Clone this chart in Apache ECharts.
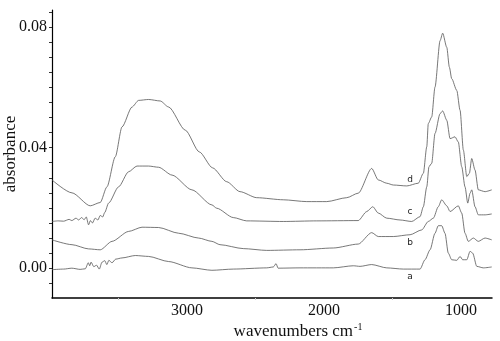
<!DOCTYPE html>
<html>
<head>
<meta charset="utf-8">
<script src="https://cdn.jsdelivr.net/npm/echarts@6/dist/echarts.min.js"></script>
<style>
  html, body { margin: 0; padding: 0; background: #fff; }
  #chart { width: 500px; height: 341px; }
</style>
</head>
<body>
<div id="chart"></div>
<script>
// spectra: [wavenumber, absorbance]
var curveA = [
  [3985, -0.0005], [3900, -0.0003], [3840, 0.0000], [3780, -0.0004], [3742, -0.0002],
  [3720, 0.0018], [3710, 0.0008], [3700, 0.0020], [3680, 0.0005], [3660, 0.0010],
  [3640, -0.0003], [3620, 0.0020], [3600, 0.0025], [3585, 0.0012], [3570, 0.0026],
  [3547, 0.0018], [3520, 0.0030], [3474, 0.0034], [3377, 0.0042], [3280, 0.0039],
  [3134, 0.0022], [2964, 0.0001], [2818, -0.0007], [2662, -0.0003], [2418, 0.0001],
  [2370, 0.0004], [2350, 0.0015], [2335, 0.0000], [2175, 0.0001], [1932, 0.0001],
  [1786, 0.0008], [1737, 0.0006], [1652, 0.0012], [1542, 0.0001], [1421, -0.0003],
  [1299, -0.0003], [1263, 0.0028], [1226, 0.0061], [1190, 0.0116], [1166, 0.0141],
  [1141, 0.0141], [1117, 0.0116], [1093, 0.0050], [1068, 0.0028], [1031, 0.0026],
  [1007, 0.0039], [988, 0.0028], [958, 0.0028], [934, 0.0056], [915, 0.0050],
  [885, 0.0006], [837, 0.0001], [776, 0.0004]
];
var curveB = [
  [3985, 0.0094], [3839, 0.0078], [3718, 0.0064], [3633, 0.0061], [3547, 0.0089],
  [3426, 0.0122], [3328, 0.0136], [3207, 0.0135], [3061, 0.0116], [2915, 0.0100],
  [2818, 0.0089], [2759, 0.0078], [2589, 0.0065], [2418, 0.0059], [2175, 0.0061],
  [1932, 0.0067], [1750, 0.0080], [1652, 0.0118], [1604, 0.0105], [1494, 0.0105],
  [1372, 0.0111], [1287, 0.0127], [1239, 0.0155], [1202, 0.0166], [1166, 0.0204],
  [1141, 0.0227], [1104, 0.0207], [1080, 0.0188], [1020, 0.0207], [995, 0.0183],
  [971, 0.0116], [947, 0.0089], [910, 0.0100], [874, 0.0089], [825, 0.0100],
  [776, 0.0094]
];
var curveC = [
  [3985, 0.0155], [3940, 0.0157], [3900, 0.0156], [3860, 0.0162], [3840, 0.0158],
  [3810, 0.0166], [3790, 0.0160], [3770, 0.0168], [3750, 0.0161], [3735, 0.0170],
  [3718, 0.0144], [3705, 0.0158], [3690, 0.0150], [3670, 0.0166], [3650, 0.0160],
  [3633, 0.0175], [3615, 0.0170], [3600, 0.0185], [3572, 0.0216], [3499, 0.0270],
  [3426, 0.0320], [3365, 0.0339], [3280, 0.0339], [3207, 0.0335], [3109, 0.0309],
  [2964, 0.0260], [2818, 0.0210], [2783, 0.0199], [2662, 0.0168], [2564, 0.0157],
  [2297, 0.0155], [2053, 0.0157], [1750, 0.0158], [1688, 0.0188], [1644, 0.0204],
  [1604, 0.0183], [1542, 0.0166], [1445, 0.0160], [1360, 0.0155], [1299, 0.0171],
  [1275, 0.0204], [1250, 0.0270], [1234, 0.0337], [1214, 0.0348], [1190, 0.0447],
  [1153, 0.0513], [1134, 0.0522], [1104, 0.0491], [1080, 0.0430], [1044, 0.0436],
  [1020, 0.0419], [995, 0.0337], [971, 0.0270], [951, 0.0216], [934, 0.0249],
  [922, 0.0260], [898, 0.0204], [874, 0.0177], [825, 0.0177], [776, 0.0180]
];
var curveD = [
  [3985, 0.0293], [3839, 0.0250], [3706, 0.0207], [3633, 0.0218], [3584, 0.0270],
  [3523, 0.0370], [3474, 0.0469], [3401, 0.0535], [3353, 0.0557], [3280, 0.0560],
  [3195, 0.0555], [3134, 0.0535], [3012, 0.0458], [2910, 0.0386], [2813, 0.0333],
  [2710, 0.0287], [2613, 0.0254], [2491, 0.0234], [2297, 0.0227], [2126, 0.0221],
  [1980, 0.0221], [1834, 0.0234], [1750, 0.0249], [1652, 0.0331], [1604, 0.0293],
  [1542, 0.0282], [1494, 0.0276], [1396, 0.0273], [1312, 0.0282], [1275, 0.0315],
  [1250, 0.0403], [1239, 0.0480], [1214, 0.0502], [1190, 0.0601], [1153, 0.0755],
  [1134, 0.0780], [1104, 0.0733], [1085, 0.0667], [1068, 0.0629], [1031, 0.0590],
  [1007, 0.0524], [983, 0.0392], [958, 0.0304], [939, 0.0315], [922, 0.0364],
  [898, 0.0326], [874, 0.0260], [825, 0.0254], [776, 0.0260]
];
var curveNames = ['a', 'b', 'c', 'd'];
// where each letter sits: [wavenumber, absorbance]
var letterSpots = [[1372, -0.0028], [1372, 0.0085], [1372, 0.0187], [1372, 0.0293]];

var xTicks = [1500, 2500, 3500];
var xLabels = [1000, 2000, 3000];
var yTicks = [];
for (var t = -0.005; t < 0.0856; t += 0.005) yTicks.push(+t.toFixed(3));
var yLabels = [0, 0.04, 0.08];

var font = 'Liberation Serif';
var chart = echarts.init(document.getElementById('chart'));

var series = [curveA, curveB, curveC, curveD].map(function (d, i) {
  return {
    name: curveNames[i],
    type: 'line',
    data: d,
    showSymbol: false,
    smooth: 0.25,
    smoothMonotone: 'x',
    lineStyle: { color: '#555', width: 0.8 },
    markPoint: {
      symbol: 'circle',
      symbolSize: 0,
      data: [{ coord: letterSpots[i] }],
      label: {
        show: true,
        formatter: curveNames[i],
        color: '#222',
        fontFamily: 'DejaVu Sans',
        fontSize: 9
      }
    }
  };
});

chart.setOption({
  animation: false,
  backgroundColor: '#fff',
  textStyle: { fontFamily: font },
  grid: { left: 52, right: 8, top: 10, bottom: 43, containLabel: false, outerBoundsMode: 'none' },
  xAxis: {
    type: 'value',
    inverse: true,
    min: 774,
    max: 3985,
    name: '{m|wavenumbers cm}{s|-1}',
    nameLocation: 'middle',
    nameGap: 24,
    nameMoveOverlap: false,
    nameTextStyle: {
      padding: [0, 0, 0, 52],
      rich: {
        m: { fontFamily: font, fontSize: 17, color: '#111' },
        s: { fontFamily: font, fontSize: 10, color: '#111', padding: [0, 0, 9, 1] }
      }
    },
    axisLine: { onZero: false, lineStyle: { color: '#000', width: 1.5 } },
    axisTick: { show: true, customValues: xTicks, length: 2, lineStyle: { color: '#ccc' } },
    axisLabel: {
      customValues: xLabels,
      fontFamily: font,
      fontSize: 16,
      color: '#111',
      margin: 5,
      formatter: function (v) { return String(v); }
    },
    splitLine: { show: false }
  },
  yAxis: {
    type: 'value',
    min: -0.0099,
    max: 0.0857,
    name: 'absorbance',
    nameLocation: 'middle',
    nameGap: 33,
    nameMoveOverlap: false,
    nameTextStyle: { fontFamily: font, fontSize: 17, color: '#111' },
    axisLine: { show: true, onZero: false, lineStyle: { color: '#000', width: 1.2 } },
    axisTick: { show: true, customValues: yTicks, length: 3, lineStyle: { color: '#333' } },
    axisLabel: {
      customValues: yLabels,
      fontFamily: font,
      fontSize: 16,
      color: '#111',
      margin: 5,
      formatter: function (v) { return v.toFixed(2); }
    },
    splitLine: { show: false }
  },
  series: series
});
</script>
</body>
</html>
